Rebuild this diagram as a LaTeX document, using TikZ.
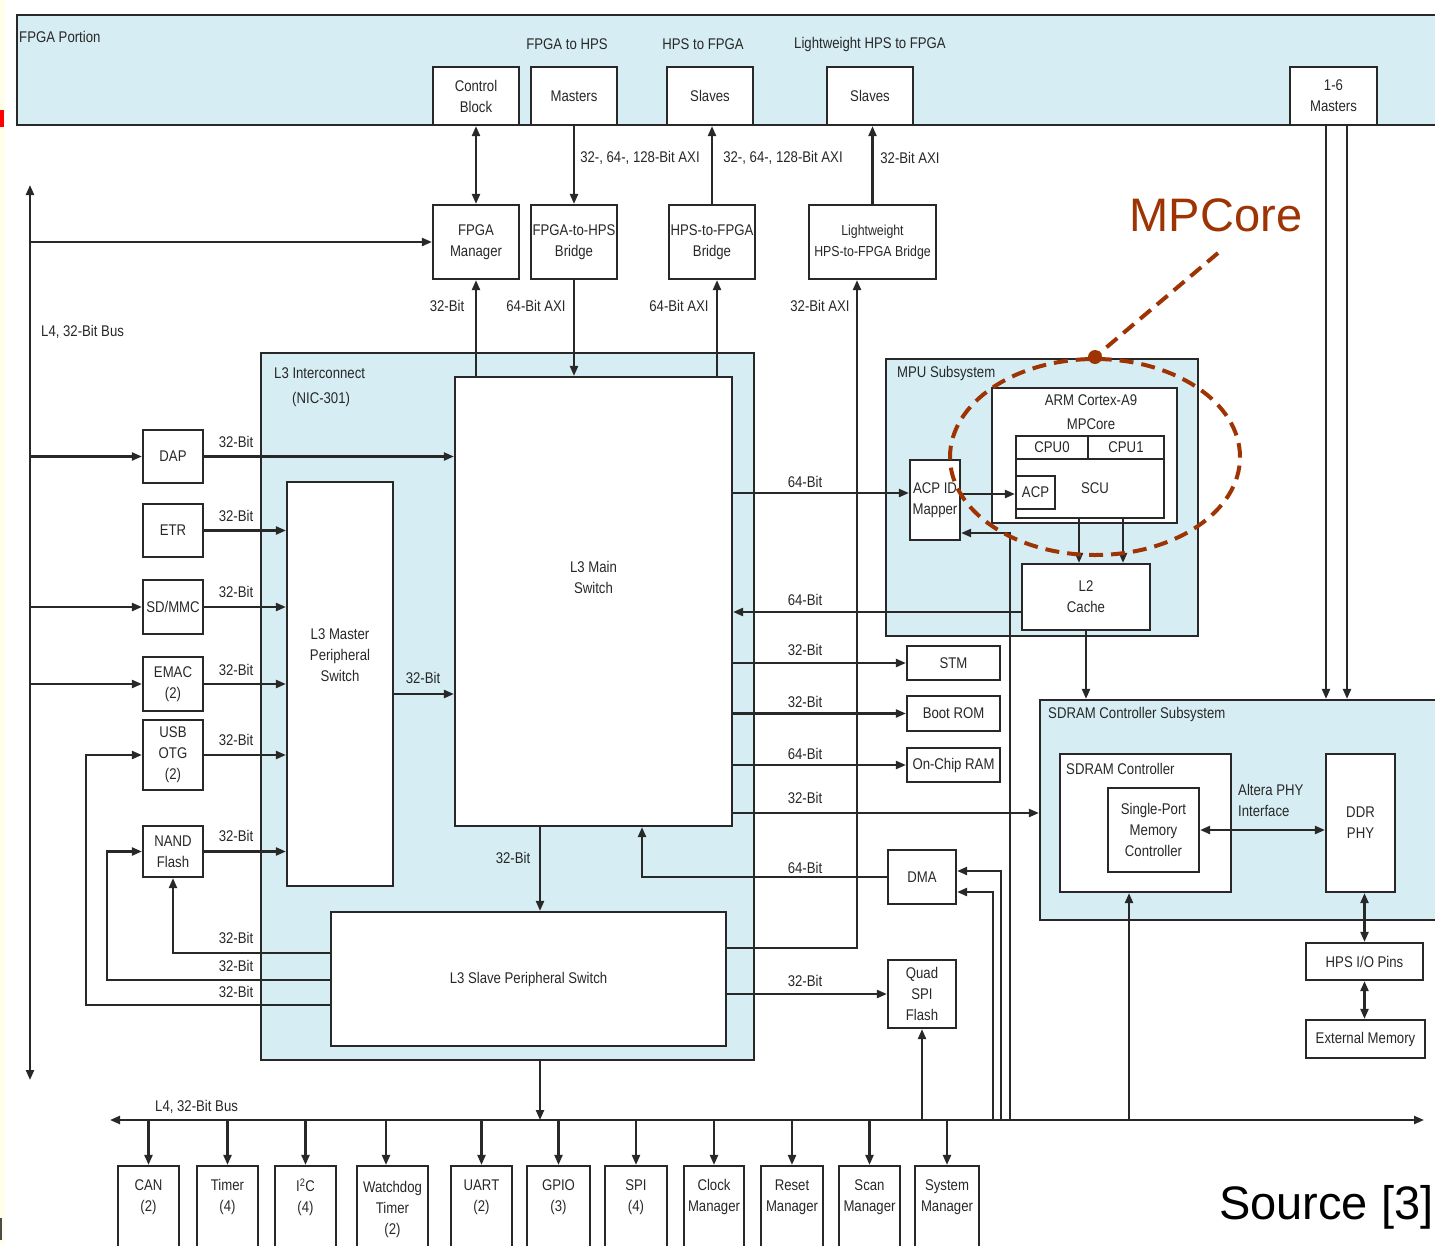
\documentclass[tikz,border=0pt]{standalone}
\usepackage{fontspec}
\setmainfont{Liberation Sans}[FakeStretch=0.85]
\newfontfamily\plainsans{Liberation Sans}
\usetikzlibrary{arrows.meta,fit,shapes.geometric}
\definecolor{lblue}{RGB}{214,237,244}
\definecolor{ln}{RGB}{40,40,40}
\definecolor{mpc}{RGB}{158,52,4}
\newcommand\mkbox[7][]{\node[box,#1,minimum width={(#5)-(#3)},minimum height={(#6)-(#4)}] (#2) at ({((#3)+(#5))/2},{((#4)+(#6))/2}) {#7};}
\begin{document}
\begin{tikzpicture}[x=1pt,y=-1pt,
  >={Triangle[length=10pt,width=8pt]},
  every node/.style={text=ln, font=\fontsize{15.5}{21}\selectfont},
  cont/.style={draw=ln, line width=2.2pt, fill=lblue, inner sep=0pt},
  box/.style={draw=ln, line width=2.2pt, fill=white, inner sep=0pt, align=center},
  wire/.style={draw=ln, line width=2.2pt},
  arr/.style={wire,->},
  dbl/.style={wire,<->},
  lbl/.style={inner sep=0pt},
  mpcl/.style={draw=mpc, line width=4pt, dash pattern=on 14pt off 8pt}
]
\useasboundingbox (0,0) rectangle (1435,1245);
\fill[white] (0,0) rectangle (1435,1245);
\fill[yellow!8] (0,0) rectangle (5,1245);
\fill[red] (0,110) rectangle (4,127);
\fill[black!70] (0,1218) rectangle (2,1240);

% containers
\node[cont, fit={(17,15) (1450,125)}] (fpga) {};
\node[cont, fit={(261,353) (754,1060)}] (l3) {};
\node[cont, fit={(886,359) (1198,636)}] (mpu) {};
\node[cont, fit={(1040,700) (1450,920)}] (sdsub) {};

% container labels
\node[lbl, anchor=west] (tfp) at (19,37) {FPGA Portion};
\node[lbl] (tf2h) at (567,44) {FPGA to HPS};
\node[lbl] (th2f) at (703,44) {HPS to FPGA};
\node[lbl] (tlw) at (870,44) {Lightweight HPS to FPGA};
\node[lbl, anchor=west] (tl3a) at (274,373) {L3 Interconnect};
\node[lbl, anchor=west] (tl3b) at (292,399) {(NIC-301)};
\node[lbl, anchor=west] (tmpu) at (897,373) {MPU Subsystem};
\node[lbl, anchor=west] (tsds) at (1048,714) {SDRAM Controller Subsystem};
\node[lbl, anchor=west] (tbus1) at (41,332) {L4, 32-Bit Bus};
\node[lbl, anchor=west] (tbus2) at (155,1107) {L4, 32-Bit Bus};

% FPGA portion boxes
\mkbox{ctrl}{433}{67}{519}{125}{Control\\Block}
\mkbox{fmast}{531}{67}{617}{125}{Masters}
\mkbox{fslv}{667}{67}{753}{125}{Slaves}
\mkbox{lslv}{827}{67}{913}{125}{Slaves}
\mkbox{m16}{1290}{67}{1377}{125}{1-6\\Masters}

% bridges
\mkbox{fmgr}{433}{205}{519}{279}{FPGA\\Manager}
\mkbox{f2h}{531}{205}{617}{279}{FPGA-to-HPS\\Bridge}
\mkbox{h2f}{669}{205}{755}{279}{HPS-to-FPGA\\Bridge}
\mkbox[font=\fontsize{14.5}{21}\selectfont]{lw}{809}{205}{936}{279}{Lightweight\\HPS-to-FPGA Bridge}

% L3 interconnect
\mkbox{main}{455}{377}{732}{826}{}
\node[lbl, align=center] (mainlbl) at ([yshift=24]main.center) {L3 Main\\Switch};
\mkbox{mps}{287}{482}{393}{886}{}
\node[lbl, align=center] (mpslbl) at ([yshift=29]mps.center) {L3 Master\\Peripheral\\Switch};
\mkbox{sps}{331}{912}{726}{1046}{L3 Slave Peripheral Switch}

% left peripherals
\mkbox{dap}{143}{430}{203}{483}{DAP}
\mkbox{etr}{143}{504}{203}{557}{ETR}
\mkbox{sdmmc}{143}{580}{203}{634}{SD/MMC}
\mkbox{emac}{143}{657}{203}{711}{EMAC\\(2)}
\mkbox{usb}{143}{720}{203}{790}{USB\\OTG\\(2)}
\mkbox{nand}{143}{826}{203}{877}{NAND\\Flash}

% right slaves
\mkbox{stm}{907}{646}{1000}{680}{STM}
\mkbox{brom}{907}{696}{1000}{731}{Boot ROM}
\mkbox{ocram}{907}{748}{1000}{782}{On-Chip RAM}
\mkbox{dma}{888}{850}{956}{904}{DMA}
\mkbox{qspi}{888}{960}{956}{1028}{Quad\\SPI\\Flash}

% MPU
\mkbox{acpid}{910}{460}{960}{540}{ACP ID\\Mapper}
\mkbox{arm}{992}{388}{1177}{523}{}
\node[lbl] (armt1) at (1091,400) {ARM Cortex-A9};
\node[lbl] (armt2) at (1091,424) {MPCore};
\mkbox{cpu0}{1016}{436}{1088}{459}{CPU0}
\mkbox{cpu1}{1088}{436}{1164}{459}{CPU1}
\mkbox{scu}{1016}{459}{1164}{518}{\hspace*{10pt}SCU}
\mkbox{acp}{1016}{476}{1055}{509}{ACP}
\mkbox{l2}{1022}{564}{1150}{630}{L2\\Cache}

% SDRAM
\mkbox{sdc}{1060}{754}{1231}{892}{}
\node[lbl, anchor=west] (sdct) at (1066,769) {SDRAM Controller};
\mkbox{spmc}{1108}{788}{1199}{872}{Single-Port\\Memory\\Controller}
\mkbox{ddr}{1326}{754}{1395}{892}{DDR\\PHY}
\node[lbl, anchor=west, align=left] (phyt) at (1238,800) {Altera PHY\\Interface};
\mkbox{hpsio}{1306}{943}{1423}{980}{HPS I/O Pins}
\mkbox{extmem}{1306}{1020}{1425}{1058}{External Memory}

% bottom peripherals
\mkbox{can}{118}{1166}{179}{1252}{CAN\\(2)\\\strut}
\mkbox{tmr}{197}{1166}{258}{1252}{Timer\\(4)\\\strut}
\mkbox{iic}{275}{1166}{336}{1252}{I\textsuperscript{2}C\\(4)\\\strut}
\mkbox{wdt}{357}{1166}{428}{1252}{Watchdog\\Timer\\(2)}
\mkbox{uart}{451}{1166}{512}{1252}{UART\\(2)\\\strut}
\mkbox{gpio}{527}{1166}{590}{1252}{GPIO\\(3)\\\strut}
\mkbox{spi}{605}{1166}{667}{1252}{SPI\\(4)\\\strut}
\mkbox{clk}{684}{1166}{744}{1252}{Clock\\Manager\\\strut}
\mkbox{rst}{761}{1166}{823}{1252}{Reset\\Manager\\\strut}
\mkbox{scan}{839}{1166}{900}{1252}{Scan\\Manager\\\strut}
\mkbox{sysm}{915}{1166}{979}{1252}{System\\Manager\\\strut}

% buses
\coordinate (vbT) at (30,185);
\coordinate (vbB) at (30,1080);
\coordinate (busL) at (110,1120);
\coordinate (busR) at (1424,1120);
\draw[dbl] (vbT) -- (vbB);
\draw[dbl] (busL) -- (busR);

% FPGA connections
\draw[dbl] (ctrl.south) -- (fmgr.north);
\draw[arr] (fmast.south) -- (f2h.north);
\draw[arr] (h2f.north) -- (h2f.north |- fslv.south);
\draw[arr] (lw.north) -- (lw.north |- lslv.south);
\node[lbl] (la1) at (640,158) {32-, 64-, 128-Bit AXI};
\node[lbl] (la2) at (783,158) {32-, 64-, 128-Bit AXI};
\node[lbl] (la3) at (910,158) {32-Bit AXI};

% left bus to peripherals
\draw[arr] (vbT |- fmgr.west) -- (fmgr.west);
\draw[arr] (vbT |- dap.west) -- (dap.west);
\draw[arr] (vbT |- sdmmc.west) -- (sdmmc.west);
\draw[arr] (vbT |- emac.west) -- (emac.west);

% bridges to L3
\draw[arr] (fmgr.south |- main.north) -- (fmgr.south);
\draw[arr] (f2h.south) -- (f2h.south |- main.north);
\coordinate (h2fb) at ([xshift=5]h2f.south);
\draw[arr] (h2fb |- main.north) -- (h2fb);
\coordinate (lwb) at ([xshift=-15.5]lw.south);
\draw[arr] ([yshift=31]sps.east) -| (lwb);
\node[lbl] (lb1) at (447,306) {32-Bit};
\node[lbl] (lb2) at (536,306) {64-Bit AXI};
\node[lbl] (lb3) at (679,306) {64-Bit AXI};
\node[lbl] (lb4) at (820,306) {32-Bit AXI};

% masters into L3
\draw[arr] (dap.east) -- (dap.east -| main.west);
\draw[arr] (etr.east) -- (etr.east -| mps.west);
\draw[arr] (sdmmc.east) -- (sdmmc.east -| mps.west);
\draw[arr] (emac.east) -- (emac.east -| mps.west);
\draw[arr] (usb.east) -- (usb.east -| mps.west);
\draw[arr] (nand.east) -- (nand.east -| mps.west);
\draw[arr] ([yshift=26]sps.west) -| (nand.south);
\draw[arr] ([yshift=-1]sps.west) -| ([xshift=-35]nand.west) -- (nand.west);
\draw[arr] ([yshift=-26]sps.west) -| ([xshift=-56]usb.west) -- (usb.west);
\foreach \yy [count=\i] in {442,516,592,670,740,836,938,966,992}
  \node[lbl] (ll\i) at (236,\yy) {32-Bit};

% inside L3
\coordinate (mpso) at ([yshift=-10]mps.east);
\draw[arr] (mpso) -- (mpso -| main.west);
\node[lbl] (lm1) at (423,678) {32-Bit};
\coordinate (mainb) at ([xshift=-53.5]main.south);
\draw[arr] (mainb) -- (mainb |- sps.north);
\node[lbl] (lm2) at (513,858) {32-Bit};
\coordinate (l3b) at ([xshift=32.5]l3.south);
\draw[arr] (l3b) -- (l3b |- busL);

% main switch to right side
\coordinate (a1) at ([yshift=7]acpid.west);
\draw[arr] (main.east |- a1) -- (a1);
\draw[arr] ([yshift=6]acpid.east) -- ([yshift=6]acpid.east -| acp.west);
\draw[arr] ([xshift=-11]scu.south) -- ([xshift=-11]scu.south |- l2.north);
\draw[arr] ([xshift=33]scu.south) -- ([xshift=33]scu.south |- l2.north);
\coordinate (l2w) at ([yshift=-15]l2.west);
\draw[arr] (l2w) -- (l2w -| main.east);
\draw[arr] (main.east |- stm.west) -- (stm.west);
\draw[arr] (main.east |- brom.west) -- (brom.west);
\draw[arr] (main.east |- ocram.west) -- (ocram.west);
\coordinate (sdw) at ([yshift=-3]sdsub.west);
\draw[arr] (sdw -| main.east) -- (sdw);
\coordinate (mainb2) at ([xshift=48.5]main.south);
\draw[arr] (dma.west) -| (mainb2);
\draw[arr] (sps.east |- qspi.west) -- (qspi.west);
\node[lbl] (lr1) at (805,482) {64-Bit};
\node[lbl] (lr2) at (805,600) {64-Bit};
\node[lbl] (lr3) at (805,650) {32-Bit};
\node[lbl] (lr4) at (805,702) {32-Bit};
\node[lbl] (lr5) at (805,754) {64-Bit};
\node[lbl] (lr6) at (805,798) {32-Bit};
\node[lbl] (lr7) at (805,868) {64-Bit};
\node[lbl] (lr8) at (805,981) {32-Bit};

% L2 and SDRAM
\draw[arr] (l2.south) -- (l2.south |- sdsub.north);
\coordinate (m16a) at ([xshift=-7.5]m16.south);
\coordinate (m16b) at ([xshift=13.5]m16.south);
\draw[arr] (m16a) -- (m16a |- sdsub.north);
\draw[arr] (m16b) -- (m16b |- sdsub.north);
\draw[dbl] (spmc.east) -- (spmc.east -| ddr.west);
\draw[dbl] (hpsio.north |- ddr.south) -- (hpsio.north);
\draw[dbl] (hpsio.south) -- (hpsio.south |- extmem.north);

% bus up connections
\coordinate (sdcb) at ([xshift=-16.5]sdc.south);
\draw[arr] (sdcb |- busL) -- (sdcb);
\draw[arr] (qspi.south |- busL) -- (qspi.south);
\coordinate (d1) at ([yshift=6]dma.east);
\coordinate (d1a) at ([xshift=44]d1);
\draw[arr] (d1a |- busL) -- (d1a) -- (d1);
\coordinate (d2) at ([yshift=-15]dma.east);
\coordinate (d2a) at ([xshift=36]d2);
\draw[arr] (d2a |- busL) -- (d2a) -- (d2);
\coordinate (m1) at ([yshift=-33]acpid.east);
\coordinate (m1a) at ([xshift=49]m1);
\draw[arr] (m1a |- busL) -- (m1a) -- (m1);

% bus down to peripherals
\foreach \n in {can,tmr,iic,uart,gpio,spi,clk,rst,scan,sysm}
  \draw[arr] (\n.north |- busL) -- (\n.north);
\coordinate (wdtn) at ([xshift=-6.5]wdt.north);
\draw[arr] (wdtn |- busL) -- (wdtn);

% MPCore annotation
\node[mpcl, ellipse, minimum width=290pt, minimum height=196pt, inner sep=0pt] (ring) at (1095,457) {};
\node[lbl, text=mpc, font=\plainsans\fontsize{47}{50}\selectfont] (mpct) at (1216,215) {MPCore};
\coordinate (mpcs) at (1218,253);
\draw[mpcl] (mpcs) -- (ring.north);
\fill[mpc] (ring.north) circle[radius=7pt];

\node[lbl, anchor=west, text=black, font=\plainsans\fontsize{47}{50}\selectfont] (src) at (1219,1207) {Source [3]};
\end{tikzpicture}
\end{document}
